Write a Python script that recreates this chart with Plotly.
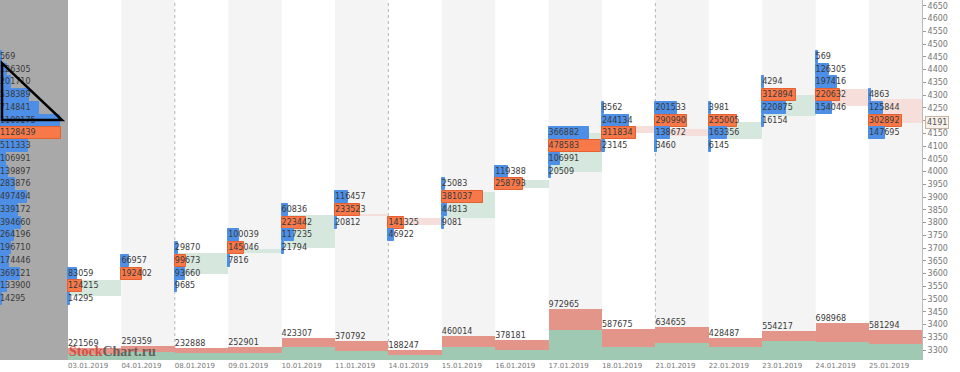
import plotly.graph_objects as go

# ---------------- data ----------------
dates = ["03.01.2019", "04.01.2019", "08.01.2019", "09.01.2019", "10.01.2019",
         "11.01.2019", "14.01.2019", "15.01.2019", "16.01.2019", "17.01.2019",
         "18.01.2019", "21.01.2019", "22.01.2019", "23.01.2019", "24.01.2019",
         "25.01.2019"]

profile_prices = [
    [3600, 3550, 3500],
    [3650, 3600],
    [3700, 3650, 3600, 3550],
    [3750, 3700, 3650],
    [3850, 3800, 3750, 3700],
    [3900, 3850, 3800],
    [3800, 3750],
    [3950, 3900, 3850, 3800],
    [4000, 3950],
    [4150, 4100, 4050, 4000],
    [4250, 4200, 4150, 4100],
    [4250, 4200, 4150, 4100],
    [4250, 4200, 4150, 4100],
    [4350, 4300, 4250, 4200],
    [4450, 4400, 4350, 4300, 4250],
    [4300, 4250, 4200, 4150],
]
profile_vols = [
    [83059, 124215, 14295],
    [66957, 192402],
    [29870, 99673, 93660, 9685],
    [100039, 145046, 7816],
    [60836, 223442, 117235, 21794],
    [116457, 233523, 20812],
    [141325, 46922],
    [25083, 381037, 44813, 9081],
    [119388, 258793],
    [366882, 478583, 106991, 20509],
    [8562, 244134, 311834, 23145],
    [201533, 290990, 138672, 3460],
    [3981, 255005, 163356, 6145],
    [4294, 312894, 220875, 16154],
    [569, 126305, 197416, 220632, 154046],
    [4863, 125844, 302892, 147695],
]

candle_open = [3512, 3600, 3598, 3679, 3701, 3830, 3816, 3816, 3936, 3999,
               4178, 4166, 4126, 4218, 4323, 4284]
candle_close = [3574, 3600, 3680, 3696, 3829, 3826, 3790, 3921, 3967, 4152,
                4152, 4139, 4195, 4300, 4257, 4191]

vol_total = [221569, 259359, 232888, 252901, 423307, 370792, 188247, 460014,
             378181, 972965, 587675, 634655, 428487, 554217, 698968, 581294]
vol_part = [118000, 149000, 130000, 133000, 245000, 180000, 100000, 257000,
            200000, 575000, 257000, 320000, 257000, 358000, 339000, 301000]

last_price = 4191
week_breaks = [2, 6, 11]
price_ticks = list(range(3300, 4651, 50))

# ---------------- styling ----------------
BLUE = "#4d8fe6"
ORANGE = "#f7794a"
ORANGE_EDGE = "#e4602e"
UP_BODY = "#d6e7dd"
DOWN_BODY = "#f6dfda"
VOL_RED = "#e3958a"
VOL_GREEN = "#9fc9b3"
COL_GREY = "#f4f4f4"
PANEL = "#a9a9a9"
TXT = "#3a3a3a"
FONT = "DejaVu Sans"

PX_COL = 53.4           # pixels per day column
PANEL_W = 68 / PX_COL   # composite panel width in column units
X0 = -PANEL_W
X1 = 922 / PX_COL - PANEL_W
MIN_W = 2 / PX_COL

n = len(dates)
max_cell = max(max(v) for v in profile_vols)
day_scale = 0.975 / max_cell

# composite profile (sum of all days per price level)
comp = {}
for pr, vs in zip(profile_prices, profile_vols):
    for p, v in zip(pr, vs):
        comp[p] = comp.get(p, 0) + v
comp_prices = sorted(comp.keys(), reverse=True)
comp_vals = [comp[p] for p in comp_prices]
comp_scale = (61 / PX_COL) / max(comp_vals)

fig = go.Figure()

# candle bodies
fig.add_trace(go.Bar(
    x=[i + 0.5 for i in range(n)],
    y=[abs(c - o) for o, c in zip(candle_open, candle_close)],
    base=[min(o, c) for o, c in zip(candle_open, candle_close)],
    width=1.0,
    marker=dict(color=[UP_BODY if c >= o else DOWN_BODY
                       for o, c in zip(candle_open, candle_close)], line=dict(width=0)),
    hoverinfo="skip", showlegend=False))

# day profiles
bx, by, bb, bc, blc = [], [], [], [], []
tx, ty, tt = [], [], []
for i, (pr, vs) in enumerate(zip(profile_prices, profile_vols)):
    poc = max(vs)
    for p, v in zip(pr, vs):
        by.append(p)
        bx.append(max(v * day_scale, MIN_W))
        bb.append(i)
        bc.append(ORANGE if v == poc else BLUE)
        blc.append(ORANGE_EDGE if v == poc else BLUE)
        tx.append(i)
        ty.append(p)
        tt.append(str(v))

# composite profile
cpoc = max(comp_vals)
for p, v in zip(comp_prices, comp_vals):
    by.append(p)
    bx.append(max(v * comp_scale, MIN_W))
    bb.append(X0)
    bc.append(ORANGE if v == cpoc else BLUE)
    blc.append(ORANGE_EDGE if v == cpoc else BLUE)
    tx.append(X0)
    ty.append(p)
    tt.append(str(v))

fig.add_trace(go.Bar(
    orientation="h", y=by, x=bx, base=bb, width=47,
    marker=dict(color=bc, line=dict(color=blc, width=1)),
    hoverinfo="skip", showlegend=False))

fig.add_trace(go.Scatter(
    x=tx, y=ty, text=tt, mode="text", textposition="middle right",
    textfont=dict(family=FONT, size=8, color=TXT),
    hoverinfo="skip", showlegend=False))

# volume panel
fig.add_trace(go.Bar(
    x=[i + 0.5 for i in range(n)], y=vol_total, width=1.0, yaxis="y2",
    marker=dict(color=VOL_RED, line=dict(width=0)),
    hoverinfo="skip", showlegend=False))
fig.add_trace(go.Bar(
    x=[i + 0.5 for i in range(n)], y=vol_part, width=1.0, yaxis="y2",
    marker=dict(color=VOL_GREEN, line=dict(width=0)),
    hoverinfo="skip", showlegend=False))
fig.add_trace(go.Scatter(
    x=list(range(n)), y=vol_total, text=[str(v) for v in vol_total],
    mode="text", textposition="top right", yaxis="y2",
    textfont=dict(family=FONT, size=8, color=TXT),
    hoverinfo="skip", showlegend=False))

# background shapes
shapes = [dict(type="rect", xref="x", yref="paper", x0=X0, x1=0, y0=0, y1=1,
               fillcolor=PANEL, line=dict(width=0), layer="below")]
for i in range(n):
    if i % 2 == 1:
        shapes.append(dict(type="rect", xref="x", yref="paper", x0=i, x1=i + 1,
                           y0=0, y1=1, fillcolor=COL_GREY, line=dict(width=0),
                           layer="below"))
for wb in week_breaks:
    shapes.append(dict(type="line", xref="x", yref="paper", x0=wb, x1=wb, y0=0, y1=1,
                       line=dict(color="#b5b5b5", width=1, dash="3px,3px"),
                       layer="below"))
# hand-drawn triangle on the composite panel
tri_x = [X0 + 2 / PX_COL, X0 + 2 / PX_COL, X0 + 62 / PX_COL]
tri_y = [4425, 4202, 4202]
shapes.append(dict(type="path", xref="x", yref="y",
                   path=f"M {tri_x[0]},{tri_y[0]} L {tri_x[1]},{tri_y[1]} L {tri_x[2]},{tri_y[2]} Z",
                   line=dict(color="black", width=2.5), layer="above"))

annotations = [
    dict(xref="paper", x=1, xanchor="left", xshift=3, yref="y", y=last_price,
         text=str(last_price), showarrow=False, bgcolor="#f8f1eb",
         bordercolor="#c9b4a4", borderwidth=1, borderpad=1,
         font=dict(family=FONT, size=8, color="#555")),
    dict(xref="x", x=0, xanchor="left", xshift=-1, yref="paper", y=0.0, yanchor="bottom",
         yshift=-1,
         text="<b><span style='color:#cf4a3a'>Stock</span>"
              "<span style='color:#5f5652'>Chart.ru</span></b>",
         showarrow=False, opacity=0.9,
         font=dict(family="Liberation Serif", size=14)),
]

fig.update_layout(
    width=960, height=372,
    margin=dict(l=0, r=38, t=0, b=12),
    paper_bgcolor="white", plot_bgcolor="white",
    barmode="overlay", bargap=0,
    shapes=shapes, annotations=annotations,
    xaxis=dict(range=[X0, X1], showgrid=False, zeroline=False,
               tickvals=list(range(n)), ticktext=dates, ticks="",
               ticklabelposition="outside right",
               tickfont=dict(family=FONT, size=7, color="#777"),
               showline=False, fixedrange=True),
    yaxis=dict(range=[3261, 4672.5], side="right", showgrid=False, zeroline=False,
               tickvals=price_ticks, ticktext=[str(t) for t in price_ticks],
               ticks="outside", ticklen=3, tickcolor="#999",
               showline=True, linecolor="#bbb", linewidth=1,
               tickfont=dict(family=FONT, size=8, color="#777")),
    yaxis2=dict(range=[0, 6.87e6], overlaying="y", visible=False),
    showlegend=False,
)

fig.write_html("out.html",
               config={"displayModeBar": False},
               post_script="document.body.style.margin='0px';"
                           "document.body.style.overflow='hidden';")
